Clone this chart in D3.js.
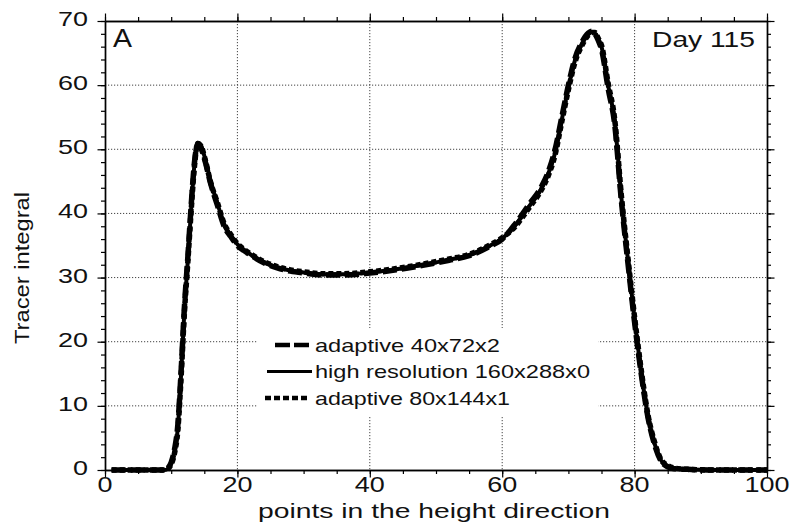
<!DOCTYPE html>
<html>
<head>
<meta charset="utf-8">
<script src="https://cdn.jsdelivr.net/npm/d3@7"></script>
<style>
  html, body { margin: 0; padding: 0; background: #fff; }
  svg { display: block; font-family: "Liberation Sans", Arial, Helvetica, sans-serif; }
</style>
</head>
<body>
<svg id="chart" width="792" height="529"></svg>
<script>
// Grid points along the height direction
const points = [1, 5, 9, 9.5, 10, 10.5, 11, 11.5, 12, 12.5, 13, 13.5, 14, 14.5, 15, 16, 17, 18, 19, 20,
  21, 22, 24, 26, 28, 30, 33, 36, 40, 44, 48, 52, 55, 58, 60, 62, 64, 66, 67, 68,
  69, 70, 71, 72, 73, 73.5, 74, 74.5, 75, 76, 77, 78, 79, 80, 81, 82, 83, 84, 85, 86,
  88, 92, 96, 100];

// Tracer integral, adaptive 40x72x2
const adaptive40 = [0, 0, 0, 0.3, 1.2, 3.2, 7.0, 15.5, 25.5, 33, 41, 47.8, 50.8, 50.2, 48.6, 44.5, 41.2, 38.0, 36.4, 35.0,
  34.2, 33.5, 32.3, 31.5, 31.0, 30.7, 30.4, 30.4, 30.7, 31.2, 31.9, 32.7, 33.4, 34.8, 36.0, 38.4, 41.3, 44.3, 46.6, 50.0,
  55.0, 60.0, 64.2, 66.6, 68.1, 68.4, 68.0, 67.0, 65.6, 59.5, 53.8, 42.0, 32.2, 23.0, 15.0, 8.3, 4.0, 1.4, 0.5, 0.2,
  0.1, 0, 0, 0];

// Tracer integral, high resolution 160x288x0
const highRes160 = [0, 0, 0, 0.2, 1.0, 2.8, 6.5, 15, 25, 32.5, 40.5, 47.5, 51, 50.6, 49, 44.8, 41.5, 38.3, 36.6, 35.2,
  34.3, 33.6, 32.4, 31.6, 31.1, 30.8, 30.5, 30.5, 30.8, 31.3, 32.0, 32.8, 33.5, 34.9, 36.1, 38.2, 41.0, 44.0, 46.3, 49.5,
  54.6, 59.6, 63.9, 66.3, 67.9, 68.3, 68.1, 67.2, 66.0, 60.0, 54.3, 42.5, 32.7, 23.5, 15.3, 8.5, 4.2, 1.5, 0.6, 0.3,
  0.1, 0, 0, 0];

// Tracer integral, adaptive 80x144x1
const adaptive80 = [0, 0, 0, 0.2, 0.9, 2.6, 6.2, 14.6, 24.6, 32.2, 40.2, 47.2, 50.9, 50.5, 48.9, 44.7, 41.6, 38.4, 36.7, 35.3,
  34.4, 33.7, 32.5, 31.7, 31.2, 30.9, 30.6, 30.6, 30.9, 31.4, 32.1, 32.9, 33.6, 35.0, 36.2, 38.0, 40.8, 43.8, 46.0, 49.2,
  54.3, 59.3, 63.6, 66.1, 67.8, 68.2, 68.2, 67.3, 66.2, 60.3, 54.6, 42.8, 33.0, 23.8, 15.6, 8.7, 4.4, 1.6, 0.7, 0.3,
  0.1, 0, 0, 0];

const seriesNames = ["adaptive 40x72x2", "high resolution 160x288x0", "adaptive 80x144x1"];

const xTicks = [0, 20, 40, 60, 80, 100];
const yTicks = [0, 10, 20, 30, 40, 50, 60, 70];
const xMinor = d3.range(0, 101, 5);
const yMinor = d3.range(0, 71, 2);

const svg = d3.select("#chart");
const L = 105, R = 767, T = 21, B = 470;

const x = d3.scaleLinear().domain([0, 100]).range([L, R]);
const y = d3.scaleLinear().domain([0, 70]).range([B, T]);

// dotted grid at interior major ticks
const grid = svg.append("g").attr("stroke", "#444").attr("stroke-width", 1)
  .attr("stroke-dasharray", "1.2,1.8");
grid.selectAll("line.gx").data(xTicks.filter(d => d > 0 && d < 100)).join("line")
  .attr("x1", d => x(d)).attr("x2", d => x(d)).attr("y1", T).attr("y2", B);
grid.selectAll("line.gy").data(yTicks.filter(d => d > 0 && d < 70)).join("line")
  .attr("x1", L).attr("x2", R).attr("y1", d => y(d)).attr("y2", d => y(d));

// legend panel masks the grid behind it
svg.append("rect").attr("x", 258).attr("y", 328).attr("width", 340).attr("height", 89).attr("fill", "#fff");

// axes: frame and outward ticks on all four sides
function styleAxis(g) {
  g.selectAll("path.domain").attr("stroke", "#000").attr("stroke-width", 1.4);
  g.selectAll(".tick line").attr("stroke", "#000").attr("stroke-width", 1.2);
  g.selectAll("text").remove();
}
const axes = [
  [d3.axisBottom(x), `translate(0,${B})`, xTicks, xMinor],
  [d3.axisTop(x), `translate(0,${T})`, xTicks, xMinor],
  [d3.axisLeft(y), `translate(${L},0)`, yTicks, yMinor],
  [d3.axisRight(y), `translate(${R},0)`, yTicks, yMinor]
];
axes.forEach(([ax, tr, major, minor]) => {
  svg.append("g").attr("transform", tr)
    .call(ax.tickValues(minor).tickSize(4).tickSizeOuter(0)).call(styleAxis);
  svg.append("g").attr("transform", tr)
    .call(ax.tickValues(major).tickSize(7.5).tickSizeOuter(0)).call(styleAxis);
});

// stretched label helper
function label(txt, px, py, size, width, anchor) {
  let x0 = px;
  if (anchor === "middle") x0 = px - width / 2;
  if (anchor === "end") x0 = px - width;
  return svg.append("text").attr("x", x0).attr("y", py)
    .attr("font-size", size).attr("fill", "#111")
    .attr("textLength", width).attr("lengthAdjust", "spacingAndGlyphs")
    .text(txt);
}

xTicks.forEach(d => label(String(d), x(d), 492, 21.5, 15 * String(d).length, "middle"));
yTicks.forEach(d => label(String(d), 88, y(d) + 5, 19.5, 15 * String(d).length, "end"));

label("points in the height direction", 434, 518, 20, 352, "middle");
svg.append("text")
  .attr("transform", "translate(29,268) rotate(-90)")
  .attr("x", -76).attr("y", 0)
  .attr("font-size", 19.5).attr("fill", "#111")
  .attr("textLength", 152).attr("lengthAdjust", "spacingAndGlyphs")
  .text("Tracer integral");

label("A", 113, 47, 25, 19, "start");
label("Day 115", 652, 47, 22, 103, "start");

// tracer curves
const styles = [
  { data: adaptive40, width: 5.5, dash: "14,5" },
  { data: highRes160, width: 4, dash: null },
  { data: adaptive80, width: 5.5, dash: "5,3" }
];
const line = d3.line().x(d => x(d[0])).y(d => y(d[1])).curve(d3.curveMonotoneX);
styles.forEach(s => {
  svg.append("path")
    .datum(points.map((p, i) => [p, s.data[i]]))
    .attr("d", line)
    .attr("fill", "none").attr("stroke", "#000")
    .attr("stroke-width", s.width)
    .attr("stroke-dasharray", s.dash)
    .attr("stroke-linejoin", "round");
});

// legend
const legendRows = [345, 371.5, 398];
const legendWidths = [185, 275, 195];
const legendLine = [[275, 309], [267, 312], [265, 310]];
styles.forEach((s, i) => {
  svg.append("line")
    .attr("x1", legendLine[i][0]).attr("x2", legendLine[i][1])
    .attr("y1", legendRows[i]).attr("y2", legendRows[i])
    .attr("stroke", "#000").attr("stroke-width", i === 1 ? 3 : 4.5)
    .attr("stroke-dasharray", i === 0 ? "15,4" : i === 2 ? "6,3" : null);
  label(seriesNames[i], 315, legendRows[i] + 6.5, 18.5, legendWidths[i], "start");
});
</script>
</body>
</html>
